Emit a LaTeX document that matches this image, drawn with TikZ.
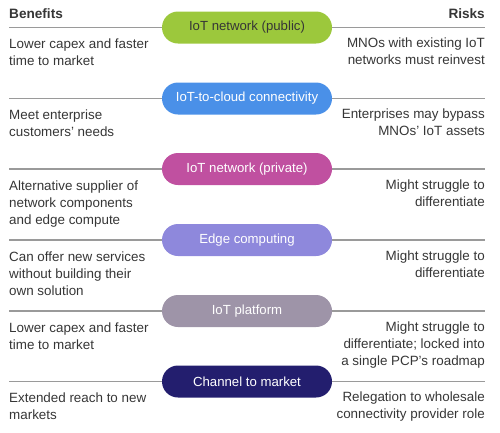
\documentclass[tikz,border=0pt]{standalone}
\usepackage{fontspec}
\setmainfont{Liberation Sans}
\definecolor{txt}{HTML}{363636}
\definecolor{rule}{HTML}{9A9A9A}
\definecolor{cgreen}{HTML}{9CC83C}
\definecolor{cblue}{HTML}{4A90E8}
\definecolor{cmag}{HTML}{C050A0}
\definecolor{clav}{HTML}{8E88DC}
\definecolor{cgray}{HTML}{9E94A8}
\definecolor{cnavy}{HTML}{231E6E}
\begin{document}
\begin{tikzpicture}[x=1pt,y=-1pt,
  pill/.style={rounded corners=16pt, minimum width=170pt, minimum height=32pt, inner sep=0pt,
    text=white, font=\fontsize{13.2}{16}\selectfont},
  conn/.style={draw=rule, line width=1.3pt},
  bene/.style={anchor=north west, inner sep=0pt, align=left, text=txt, font=\fontsize{13.4}{17}\selectfont},
  risk/.style={anchor=north east, inner sep=0pt, align=right, text=txt, font=\fontsize{13.4}{17}\selectfont},
  head/.style={inner sep=0pt, text=txt, font=\fontsize{13.6}{17}\selectfont\bfseries}]
\useasboundingbox (0,0) rectangle (500,432);
\node[head, anchor=base west] (hb) at (9,18.3) {Benefits};
\node[head, anchor=base east] (hr) at (485,18.3) {Risks};
% pills
\node[pill, fill=cgreen, text=txt] (p1) at (247,27.5) {IoT network (public)};
\node[pill, fill=cblue] (p2) at (247,98.5) {IoT-to-cloud connectivity};
\node[pill, fill=cmag] (p3) at (247,169) {IoT network (private)};
\node[pill, fill=clav] (p4) at (247,240) {Edge computing};
\node[pill, fill=cgray] (p5) at (247,311) {IoT platform};
\node[pill, fill=cnavy] (p6) at (247,381.5) {Channel to market};
% connectors
\foreach \i/\y in {1/27.5,2/98.5,3/169,4/240,5/311,6/381.5}{
  \coordinate (l\i) at (9,\y);
  \coordinate (r\i) at (485,\y);
  \draw[conn] (l\i) -- (p\i.west);
  \draw[conn] (p\i.east) -- (r\i);
}
% benefits
\node[bene] (b1) at (9,39) {Lower capex and faster\\time to market};
\node[bene] (b2) at (9,110) {Meet enterprise\\customers' needs};
\node[bene] (b3) at (9,180.5) {Alternative supplier of\\network components\\and edge compute};
\node[bene] (b4) at (9,251.5) {Can offer new services\\without building their\\own solution};
\node[bene] (b5) at (9,322.5) {Lower capex and faster\\time to market};
\node[bene] (b6) at (9,393) {Extended reach to new\\markets};
% risks
\node[risk] (k1) at (485,38) {MNOs with existing IoT\\networks must reinvest};
\node[risk] (k2) at (485,109) {Enterprises may bypass\\MNOs' IoT assets};
\node[risk] (k3) at (485,179.5) {Might struggle to\\differentiate};
\node[risk] (k4) at (485,250.5) {Might struggle to\\differentiate};
\node[risk] (k5) at (485,321.5) {Might struggle to\\differentiate; locked into\\a single PCP's roadmap};
\node[risk] (k6) at (485,392) {Relegation to wholesale\\connectivity provider role};
\end{tikzpicture}
\end{document}
